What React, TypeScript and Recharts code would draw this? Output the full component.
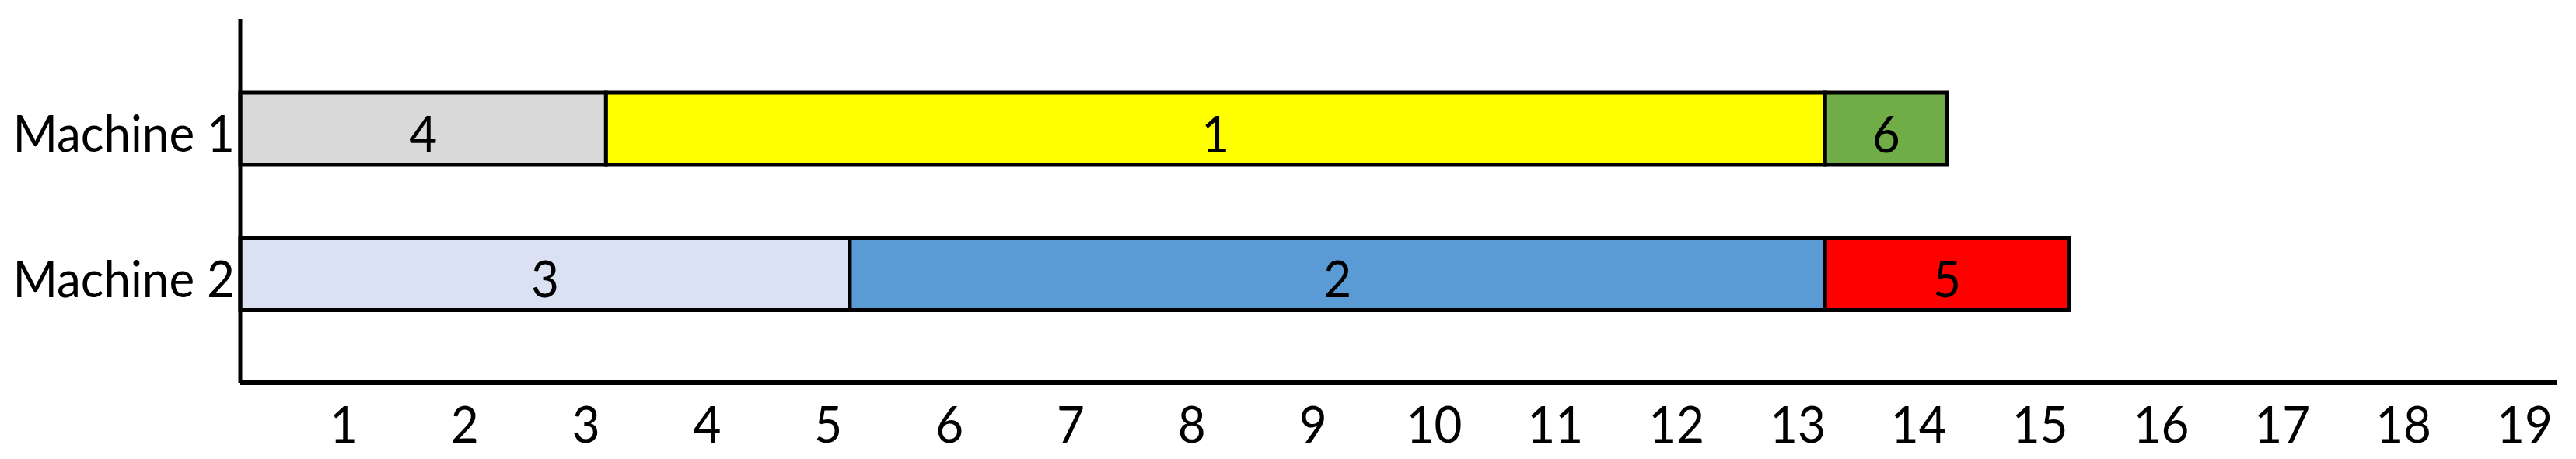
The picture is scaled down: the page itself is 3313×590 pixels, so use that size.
import React from 'react';
import { BarChart, Bar, XAxis, YAxis, Cell, LabelList } from 'recharts';

// ---- data ----
const machines = ['Machine 1', 'Machine 2'];
const firstDuration = [3, 5];
const secondDuration = [10, 8];
const thirdDuration = [1, 2];
const firstJob = ['4', '3'];
const secondJob = ['1', '2'];
const thirdJob = ['6', '5'];
const firstColor = ['#D9D9D9', '#DAE1F3'];
const secondColor = ['#FFFF00', '#5B9BD5'];
const thirdColor = ['#70AD47', '#FF0000'];
const timeDomain = [0, 19];
const timeTickLabels = [1, 2, 3, 4, 5, 6, 7, 8, 9, 10, 11, 12, 13, 14, 15, 16, 17, 18, 19];
// the printed time labels sit slightly left of the scale values
const labelDomain = [0.1465, 19.2635];

const FONT = 'Lato, "Open Sans", sans-serif';
const FONT_SIZE = 62;
const STRETCH_Y = 1.07;

const StretchText = ({ x, y, anchor, children }: any) => (
  <text
    transform={`translate(${x},${y}) scale(1,${STRETCH_Y})`}
    x={0}
    y={0}
    textAnchor={anchor}
    fontFamily={FONT}
    fontSize={FONT_SIZE}
    fill="#000"
  >
    {children}
  </text>
);

const data = machines.map((m, i) => ({
  machine: m,
  a: firstDuration[i],
  b: secondDuration[i],
  c: thirdDuration[i],
  ja: firstJob[i],
  jb: secondJob[i],
  jc: thirdJob[i],
}));

const BarText = (props: any) => {
  const vb = props.viewBox || props;
  const x = Number(vb.x);
  const y = Number(vb.y);
  const w = Number(vb.width);
  const h = Number(vb.height);
  return (
    <StretchText x={x + w / 2} y={y + h / 2 + 30} anchor="middle">
      {props.value}
    </StretchText>
  );
};

const XTick = (props: any) => {
  const { x, y, payload } = props;
  return (
    <StretchText x={x} y={y + 45} anchor="middle">
      {payload.value}
    </StretchText>
  );
};

const YTick = (props: any) => {
  const { x, y, payload } = props;
  return (
    <StretchText x={x} y={y + 30} anchor="end">
      {payload.value}
    </StretchText>
  );
};

export default function App() {
  return (
    <div style={{ position: 'absolute', left: 0, top: 0, width: 3313, height: 590, background: '#fff' }}>
      <BarChart
        layout="vertical"
        width={3313}
        height={590}
        data={data}
        margin={{ top: 25, right: 25, bottom: 0, left: 0 }}
        barSize={93}
      >
        <XAxis
          type="number"
          domain={timeDomain}
          ticks={[]}
          tick={false}
          tickLine={false}
          axisLine={{ stroke: '#000', strokeWidth: 6 }}
          height={1}
        />
        <XAxis
          xAxisId="labels"
          type="number"
          domain={labelDomain}
          allowDataOverflow
          ticks={timeTickLabels}
          interval={0}
          axisLine={false}
          tickLine={false}
          tickSize={0}
          tickMargin={31}
          height={97}
          tick={<XTick />}
        />
        <YAxis
          type="category"
          dataKey="machine"
          width={309}
          padding={{ top: 47, bottom: 47 }}
          axisLine={{ stroke: '#000', strokeWidth: 5 }}
          tickLine={false}
          tickSize={0}
          tickMargin={7}
          tick={<YTick />}
        />
        <Bar dataKey="a" stackId="s" stroke="#000" strokeWidth={5} isAnimationActive={false}>
          {data.map((d, i) => (
            <Cell key={`a${i}`} fill={firstColor[i]} />
          ))}
          <LabelList dataKey="ja" content={BarText} />
        </Bar>
        <Bar dataKey="b" stackId="s" stroke="#000" strokeWidth={5} isAnimationActive={false}>
          {data.map((d, i) => (
            <Cell key={`b${i}`} fill={secondColor[i]} />
          ))}
          <LabelList dataKey="jb" content={BarText} />
        </Bar>
        <Bar dataKey="c" stackId="s" stroke="#000" strokeWidth={5} isAnimationActive={false}>
          {data.map((d, i) => (
            <Cell key={`c${i}`} fill={thirdColor[i]} />
          ))}
          <LabelList dataKey="jc" content={BarText} />
        </Bar>
      </BarChart>
    </div>
  );
}
